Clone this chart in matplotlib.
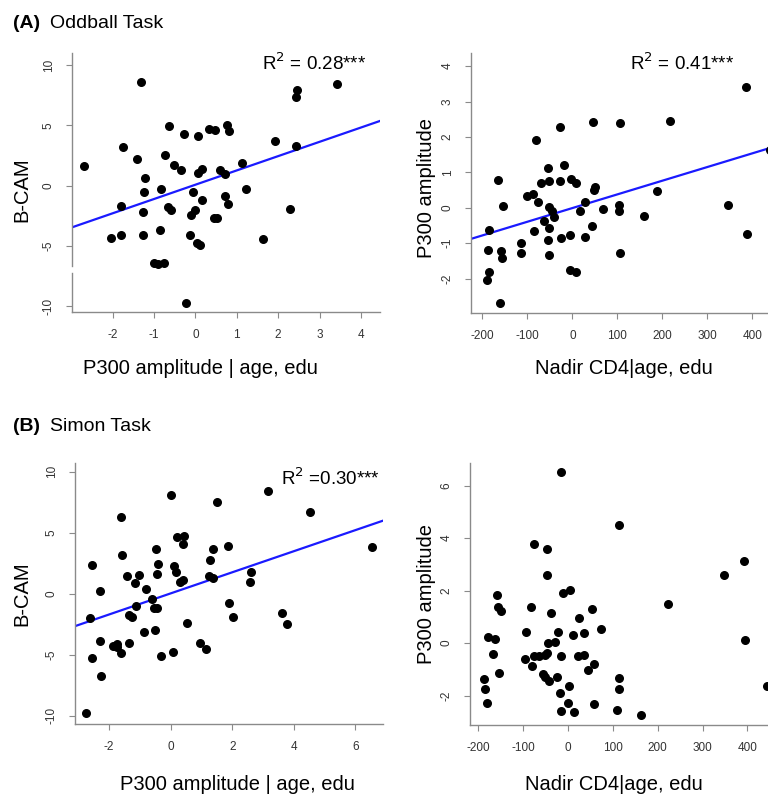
import matplotlib.pyplot as plt
import matplotlib.transforms as mtrans
import numpy as np

plt.rcParams['font.family'] = ['Liberation Sans', 'DejaVu Sans']
plt.rcParams['axes.unicode_minus'] = False

# (A) Oddball task, left: P300 amplitude | age, edu vs B-CAM
a_p300 = [-2.70, -1.32, -1.76, -1.40, -1.21, -1.24, -1.80, -1.26, -2.04, -1.80,
          -1.27, -0.85, -1.00, -0.90, -0.76, -0.22, -0.82, -0.74, -0.64, -0.51,
          -0.35, -0.27, -0.65, -0.58, -0.06, 0.06, 0.07, 0.16, 0.16, -0.10,
          -0.01, -0.13, 0.03, 0.11, 0.32, 0.48, 0.44, 0.53, 0.60, 0.72,
          0.76, 0.81, 0.72, 0.80, 1.13, 1.23, 1.63, 1.93, 2.28, 2.42,
          2.42, 2.45, 3.41]
a_bcam = [1.58, 8.63, 3.21, 2.19, 0.61, -0.55, -1.74, -2.24, -4.32, -4.12,
          -4.12, -3.68, -6.45, -6.53, -6.45, -9.74, -0.28, 2.52, 4.98, 1.69,
          1.27, 4.26, -1.80, -2.02, -0.58, 4.07, 1.08, 1.36, -1.19, -2.43,
          -2.07, -4.12, -4.79, -4.92, 4.65, 4.59, -2.71, -2.66, 1.27, 0.97,
          5.06, 4.54, -0.91, -1.52, 1.91, -0.28, -4.40, 3.71, -1.99, 3.32,
          7.36, 7.94, 8.46]

# (A) Oddball task, right: Nadir CD4 | age, edu vs P300 amplitude
a_cd4 = [-190.7, -161.0, -185.5, -187.7, -185.5, -159.5, -157.3, -166.2, -153.6, -114.2,
         -115.0, -100.9, -87.5, -81.6, -76.4, -84.6, -69.7, -62.3, -53.4, -52.7,
         -52.7, -45.3, -40.1, -51.2, -54.2, -51.9, -27.4, -27.4, -24.5, -17.8,
         -3.7, 8.9, -5.2, -5.9, 7.4, 16.3, 27.4, 27.4, 46.0, 49.7,
         47.5, 44.5, 67.5, 102.4, 103.1, 106.8, 106.1, 158.0, 187.0, 216.6,
         345.7, 386.5, 388.0, 440.0]
a_amp = [-2.03, -2.70, -1.82, -1.20, -0.64, -1.22, -1.41, 0.79, 0.05, -1.00,
         -1.27, 0.32, 0.40, 1.92, 0.15, -0.66, 0.70, -0.37, 1.13, 0.77,
         0.02, -0.10, -0.27, -0.58, -0.92, -1.32, 2.28, 0.75, -0.86, 1.22,
         0.82, 0.71, -0.76, -1.75, -1.82, -0.09, 0.17, -0.82, 2.42, 0.58,
         0.49, -0.51, -0.02, 0.08, -0.08, -1.27, 2.40, -0.23, 0.48, 2.44,
         0.08, 3.40, -0.73, 1.62]

# (B) Simon task, left
b_p300 = [-2.75, -2.57, -2.62, -2.55, -2.31, -2.29, -2.27, -1.62, -1.58, -1.43,
          -1.04, -1.17, -1.12, -1.34, -1.25, -1.88, -1.75, -1.73, -1.62, -1.36,
          -0.86, -0.80, -0.61, -0.54, -0.43, -0.50, -0.49, -0.41, -0.43, -0.31,
          0.01, 0.11, 0.19, 0.17, 0.42, 0.41, 0.30, 0.39, 0.06, 0.54,
          0.94, 1.15, 1.23, 1.36, 1.29, 1.38, 1.51, 1.86, 1.90, 2.04,
          2.62, 2.59, 3.15, 3.61, 3.78, 4.52, 6.55]
b_bcam = [-9.80, 2.35, -1.96, -5.27, -3.87, 0.27, -6.74, 6.30, 3.14, 1.50,
          1.58, 0.85, -1.01, -1.77, -1.88, -4.28, -4.12, -4.39, -4.83, -4.04,
          -3.14, 0.41, -0.41, -1.15, -1.17, -2.95, 3.68, 2.43, 1.66, -5.08,
          8.13, 2.24, 4.64, 1.75, 4.77, 4.09, 0.98, 1.17, -4.75, -2.43,
          -4.04, -4.50, 1.50, 1.31, 2.76, 3.71, 7.56, 3.90, -0.79, -1.86,
          1.80, 0.93, 8.40, -1.58, -2.46, 6.74, 3.82]

# (B) Simon task, right
b_cd4 = [-15.6, 114.5, -75.8, -46.1, -47.6, 5.2, -10.4, -158.4, -156.1, -149.4,
         -81.8, -37.2, 54.3, 24.5, 74.3, -92.9, -21.6, 10.4, 34.9, -179.2,
         -162.1, -28.3, -44.6, -46.1, -50.6, -64.7, -76.6, -95.2, -166.5, -80.3,
         -15.6, 23.0, 35.7, 58.0, 43.9, -153.2, -56.5, -50.6, -42.4, -25.3,
         2.2, -17.1, 0.0, -16.4, 14.1, 57.2, -186.6, -185.9, -180.0, 113.0,
         114.5, 109.3, 163.6, 223.8, 347.2, 392.6, 394.8, 443.0]
b_amp = [6.53, 4.51, 3.78, 3.59, 2.61, 2.03, 1.89, 1.85, 1.36, 1.22,
         1.38, 1.14, 1.28, 0.94, 0.54, 0.42, 0.42, 0.29, 0.37, 0.22,
         0.16, 0.05, -0.01, -0.37, -0.44, -0.51, -0.51, -0.60, -0.42, -0.87,
         -0.48, -0.51, -0.46, -0.80, -1.04, -1.14, -1.17, -1.29, -1.44, -1.28,
         -1.62, -1.90, -2.27, -2.57, -2.61, -2.32, -1.37, -1.76, -2.28, -1.34,
         -1.76, -2.56, -2.75, 1.50, 2.59, 3.14, 0.11, -1.62]

W, H = 768, 794
fig = plt.figure(figsize=(W / 100, H / 100), dpi=100)


def add_ax(l, t, r, b):
    return fig.add_axes([l / W, 1 - b / H, (r - l) / W, (b - t) / H])


def style(ax, xticks, yticks, xlim, ylim):
    for s in ['top', 'right']:
        ax.spines[s].set_visible(False)
    for s in ['left', 'bottom']:
        ax.spines[s].set_color('#8a8a8a')
        ax.spines[s].set_linewidth(1.0)
    ax.set_xlim(xlim)
    ax.set_ylim(ylim)
    ax.set_xticks(xticks)
    ax.set_yticks(yticks)
    ax.tick_params(direction='out', length=4.5, width=0.8, color='#8a8a8a',
                   labelsize=8.5, labelcolor='#333333', pad=8)
    for lab in ax.get_yticklabels():
        lab.set_rotation(90)
        lab.set_va('center')


def scatter_fit(ax, x, y, fit):
    ax.scatter(x, y, s=30, color='black', zorder=3, clip_on=False)
    if fit:
        k, c = np.polyfit(x, y, 1)
        xs = np.array(ax.get_xlim())
        ax.plot(xs, k * xs + c, color='#1a1aff', lw=1.6, zorder=2)


lab_kw = dict(fontsize=14.5, color='black')

# panel A left
ax1 = add_ax(72, 53, 380, 312)
style(ax1, [-2, -1, 0, 1, 2, 3, 4], [-10, -5, 0, 5, 10], (-2.98, 4.46), (-10.5, 11.0))
scatter_fit(ax1, a_p300, a_bcam, True)
ax1.spines['left'].set_bounds(-6.72, 11.0)
tr = mtrans.blended_transform_factory(ax1.transAxes, ax1.transData)
ax1.plot([0, 0], [-10.5, -7.25], transform=tr, color='#8a8a8a', lw=1.0, clip_on=False)
ax1.text(0.955, 0.96, r'R$^2$ = 0.28***', transform=ax1.transAxes, ha='right', va='center', fontsize=13.5)

# panel A right
ax2 = add_ax(471, 53, 768, 313)
style(ax2, [-200, -100, 0, 100, 200, 300, 400], [-2, -1, 0, 1, 2, 3, 4], (-225.5, 434.7), (-2.97, 4.37))
scatter_fit(ax2, a_cd4, a_amp, True)
ax2.text(0.885, 0.96, r'R$^2$ = 0.41***', transform=ax2.transAxes, ha='right', va='center', fontsize=13.5)

# panel B left
ax3 = add_ax(75, 463, 383, 724)
style(ax3, [-2, 0, 2, 4, 6], [-10, -5, 0, 5, 10], (-3.11, 6.9), (-10.67, 10.72))
scatter_fit(ax3, b_p300, b_bcam, True)
ax3.text(0.99, 0.94, r'R$^2$ =0.30***', transform=ax3.transAxes, ha='right', va='center', fontsize=13.5)

# panel B right
ax4 = add_ax(470, 463, 768, 725)
style(ax4, [-200, -100, 0, 100, 200, 300, 400], [-2, 0, 2, 4, 6], (-218.6, 446), (-3.12, 6.86))
scatter_fit(ax4, b_cd4, b_amp, False)

# axis labels
fig.text(22 / W, 1 - 190 / H, 'B-CAM', rotation=90, ha='center', va='center', **lab_kw)
fig.text(200 / W, 1 - 368 / H, 'P300 amplitude | age, edu', ha='center', va='center', **lab_kw)
fig.text(427 / W, 1 - 188 / H, 'P300 amplitude', rotation=90, ha='center', va='center', **lab_kw)
fig.text(624 / W, 1 - 368 / H, 'Nadir CD4|age, edu', ha='center', va='center', **lab_kw)
fig.text(22 / W, 1 - 594 / H, 'B-CAM', rotation=90, ha='center', va='center', **lab_kw)
fig.text(237 / W, 1 - 784 / H, 'P300 amplitude | age, edu', ha='center', va='center', **lab_kw)
fig.text(427 / W, 1 - 594 / H, 'P300 amplitude', rotation=90, ha='center', va='center', **lab_kw)
fig.text(614 / W, 1 - 784 / H, 'Nadir CD4|age, edu', ha='center', va='center', **lab_kw)

# section titles
fig.text(13 / W, 1 - 23 / H, '(A)', fontsize=14, fontweight='bold', ha='left', va='center')
fig.text(50 / W, 1 - 23 / H, 'Oddball Task', fontsize=14, ha='left', va='center')
fig.text(13 / W, 1 - 427 / H, '(B)', fontsize=14, fontweight='bold', ha='left', va='center')
fig.text(50 / W, 1 - 427 / H, 'Simon Task', fontsize=14, ha='left', va='center')

fig.savefig('out.png', dpi=100)
